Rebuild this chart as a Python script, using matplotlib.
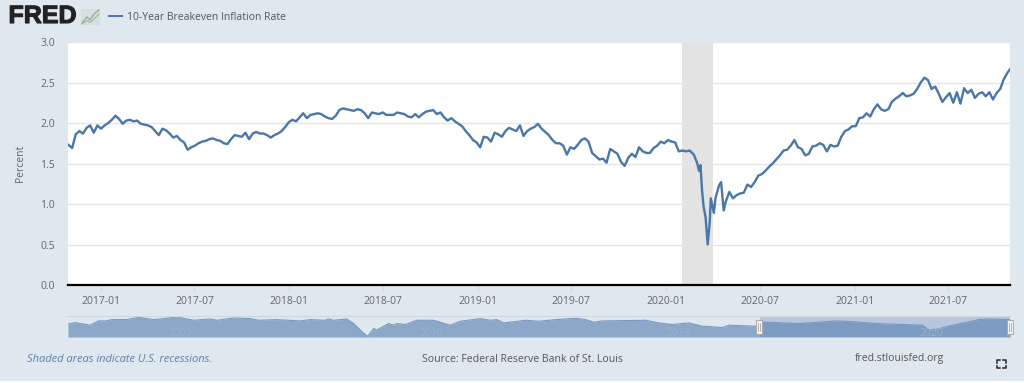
import pandas as pd
import matplotlib
matplotlib.use("Agg")
import matplotlib.pyplot as plt
import matplotlib.patheffects as pe

plt.rcParams['font.family'] = ['Open Sans', 'DejaVu Sans']

# weekly readings, 2016-10-30 to 2020-02-16
values_a = [1.73, 1.69, 1.86, 1.90, 1.87, 1.94, 1.97, 1.88, 1.97, 1.93,
            1.97, 2.00, 2.04, 2.09, 2.05, 1.99, 2.03, 2.04, 2.02, 2.03,
            1.99, 1.98, 1.97, 1.95, 1.90, 1.85, 1.93, 1.91, 1.87, 1.82,
            1.84, 1.79, 1.76, 1.67, 1.70, 1.72, 1.75, 1.77, 1.78, 1.80,
            1.81, 1.79, 1.78, 1.75, 1.74, 1.80, 1.85, 1.84, 1.83, 1.88,
            1.80, 1.87, 1.89, 1.87, 1.87, 1.85, 1.82, 1.85, 1.87, 1.90,
            1.95, 2.01, 2.04, 2.02, 2.07, 2.12, 2.06, 2.10, 2.11, 2.12,
            2.11, 2.08, 2.06, 2.05, 2.09, 2.16, 2.18, 2.17, 2.16, 2.15,
            2.17, 2.16, 2.12, 2.06, 2.13, 2.12, 2.11, 2.13, 2.10, 2.10,
            2.10, 2.13, 2.12, 2.11, 2.08, 2.07, 2.11, 2.07, 2.11, 2.14,
            2.15, 2.16, 2.11, 2.13, 2.07, 2.03, 2.06, 2.02, 1.99, 1.96,
            1.90, 1.85, 1.79, 1.76, 1.70, 1.83, 1.82, 1.77, 1.88, 1.86,
            1.83, 1.90, 1.94, 1.92, 1.90, 1.97, 1.84, 1.90, 1.93, 1.95,
            1.99, 1.93, 1.89, 1.85, 1.79, 1.75, 1.75, 1.72, 1.61, 1.70,
            1.68, 1.73, 1.79, 1.81, 1.77, 1.63, 1.59, 1.55, 1.56, 1.51,
            1.68, 1.65, 1.62, 1.52, 1.47, 1.57, 1.62, 1.58, 1.70, 1.65,
            1.63, 1.63, 1.69, 1.72, 1.77, 1.75, 1.79, 1.77, 1.76, 1.65,
            1.66, 1.65, 1.66]

# the crash needs a closer look than weekly
crash_dates = ['2020-02-24', '2020-03-02', '2020-03-05', '2020-03-08', '2020-03-11',
               '2020-03-14', '2020-03-18', '2020-03-22', '2020-03-26', '2020-03-28',
               '2020-04-03', '2020-04-06', '2020-04-13', '2020-04-17', '2020-04-22']
crash_values = [1.61, 1.50, 1.41, 1.48, 1.17, 0.97, 0.83, 0.50, 0.78, 1.07,
                0.89, 1.07, 1.23, 1.27, 0.92]

# weekly readings from 2020-04-26 on
values_b = [1.03, 1.15, 1.07, 1.11, 1.13, 1.14, 1.24, 1.21, 1.27, 1.35,
            1.37, 1.41, 1.46, 1.50, 1.55, 1.60, 1.66, 1.67, 1.72, 1.79,
            1.70, 1.68, 1.60, 1.62, 1.71, 1.72, 1.75, 1.73, 1.65, 1.73,
            1.71, 1.72, 1.83, 1.90, 1.92, 1.96, 1.96, 2.06, 2.07, 2.12,
            2.08, 2.17, 2.23, 2.17, 2.15, 2.17, 2.26, 2.30, 2.33, 2.37,
            2.33, 2.34, 2.36, 2.42, 2.50, 2.56, 2.53, 2.42, 2.45, 2.36,
            2.26, 2.32, 2.37, 2.25, 2.38, 2.24, 2.43, 2.37, 2.41, 2.31,
            2.36, 2.38, 2.33, 2.38, 2.29, 2.37, 2.42, 2.54, 2.62, 2.68]

recession = ['2020-02-01', '2020-04-01']
x_range = ['2016-10-29', '2021-10-29']
tick_dates = ['2017-01-01', '2017-07-01', '2018-01-01', '2018-07-01', '2019-01-01',
              '2019-07-01', '2020-01-01', '2020-07-01', '2021-01-01', '2021-07-01']
tick_labels = ['2017-01', '2017-07', '2018-01', '2018-07', '2019-01',
               '2019-07', '2020-01', '2020-07', '2021-01', '2021-07']
y_ticks = [0.0, 0.5, 1.0, 1.5, 2.0, 2.5, 3.0]

# navigator, whole history in decimal years
nav_years = [2003.00, 2003.14, 2003.44, 2003.61, 2003.77, 2003.87, 2004.17, 2004.41, 2004.71, 2004.91,
             2005.17, 2005.51, 2005.84, 2005.97, 2006.31, 2006.64, 2006.81, 2007.17, 2007.64, 2007.84,
             2008.14, 2008.21, 2008.31, 2008.57, 2008.71, 2008.91, 2008.99, 2009.11, 2009.17, 2009.41,
             2009.51, 2009.57, 2009.74, 2009.97, 2010.31, 2010.64, 2010.84, 2011.24, 2011.44, 2011.57,
             2011.71, 2011.88, 2012.15, 2012.41, 2012.75, 2013.15, 2013.35, 2013.51, 2013.68, 2014.55,
             2014.81, 2015.08, 2015.41, 2015.68, 2016.08, 2016.21, 2016.75, 2016.85, 2017.61, 2018.35,
             2018.75, 2019.15, 2020.08, 2020.21, 2020.35, 2020.68, 2021.21, 2021.41, 2021.83]
nav_values = [1.95, 2.20, 1.80, 2.45, 2.45, 2.65, 2.65, 3.00, 2.65, 2.80,
              3.05, 2.55, 2.75, 2.55, 2.90, 2.80, 2.55, 2.65, 2.45, 2.65,
              2.55, 2.75, 2.55, 2.75, 2.05, 0.55, 0.10, 1.30, 1.05, 2.05,
              1.80, 2.05, 1.90, 2.55, 2.55, 1.80, 2.40, 2.80, 2.55, 2.65,
              2.15, 2.30, 2.55, 2.40, 2.65, 2.85, 2.65, 2.25, 2.45, 2.55,
              2.15, 1.90, 2.15, 1.65, 1.45, 1.80, 1.65, 2.30, 2.05, 2.45,
              2.30, 2.05, 1.80, 1.05, 1.15, 1.80, 2.65, 2.75, 2.65]
nav_labels = ['2005', '2010', '2015', '2020']
nav_label_years = [2005.25, 2010.27, 2015.2, 2020.25]
nav_selected = [2016.83, 2021.83]

BG = '#dfe8ef'
LINE = '#4a76a8'
W, H = 1024, 383

dates = (list(pd.date_range('2016-10-30', periods=len(values_a), freq='7D'))
         + list(pd.to_datetime(crash_dates))
         + list(pd.date_range('2020-04-26', periods=len(values_b), freq='7D')))
series = values_a + crash_values + values_b

fig = plt.figure(figsize=(W / 100, H / 100), dpi=100, facecolor=BG)


def px_axes(left, top, right, bottom):
    return fig.add_axes([left / W, 1 - bottom / H, (right - left) / W, (bottom - top) / H])


# main chart
ax = px_axes(68, 42, 1010, 285)
ax.plot(dates, series, color=LINE, lw=1.7, solid_joinstyle='round')
ax.axvspan(pd.Timestamp(recession[0]), pd.Timestamp(recession[1]), color='#e3e3e3', lw=0, zorder=0)
ax.set_xlim(pd.Timestamp(x_range[0]), pd.Timestamp(x_range[1]))
ax.set_ylim(0, 3)
ax.set_yticks(y_ticks)
ax.set_yticklabels(['%.1f' % v for v in y_ticks])
ax.set_xticks(pd.to_datetime(tick_dates))
ax.set_xticklabels(tick_labels)
ax.grid(axis='y', color='#e6e6e6', lw=1)
ax.set_axisbelow(True)
ax.tick_params(axis='y', length=0, labelsize=7.5, labelcolor='#666666', pad=9.5)
ax.tick_params(axis='x', length=5, color='#d3dbe2', width=1, labelsize=7.5, labelcolor='#666666', pad=3)
ax.set_ylabel('Percent', fontsize=7.5, color='#666666', labelpad=10)
for s in ['top', 'left', 'right']:
    ax.spines[s].set_visible(False)
ax.spines['bottom'].set_linewidth(1.6)
ax.spines['bottom'].set_color('black')

# navigator
nav = px_axes(68, 316, 1010, 337)
nav.set_xlim(2003, 2021.83)
nav.set_ylim(0, 3.2)
nav.set_facecolor(BG)
nav.fill_between(nav_years, nav_values, 0, color='#8ba8c9', lw=0)
nav.plot(nav_years, nav_values, color='#7a99bf', lw=0.8)
for yr, lab in zip(nav_label_years, nav_labels):
    nav.text(yr, 0.5, lab, fontsize=7.5, color='#9ab1cd', ha='center', va='center')
nav.axvspan(nav_selected[0], nav_selected[1], color='#5b7fb8', alpha=0.3, lw=0)
nav.set_xticks([])
nav.set_yticks([])
for s in ['left', 'right', 'bottom']:
    nav.spines[s].set_visible(False)
nav.spines['top'].set_color('#cfd6dc')
nav.spines['top'].set_linewidth(0.8)

# page furniture in pixel coordinates
top = px_axes(0, 0, W, H)
top.set_xlim(0, W)
top.set_ylim(H, 0)
top.axis('off')
top.patch.set_alpha(0)

top.text(8.5, 16, 'FRED', fontsize=18, fontweight='bold', color='#222222', family='Liberation Sans',
         ha='left', va='center', path_effects=[pe.withStroke(linewidth=0.8, foreground='#222222')])
top.add_patch(plt.Rectangle((81, 9), 19, 16, color='#d6dfe0', lw=0))
top.plot([82, 87, 90, 94, 99], [23, 17, 20, 14, 10], color='#8fae8f', lw=0.9)
top.plot([82, 86, 91, 95, 99], [24, 21, 22, 18, 14], color='#a3b8a3', lw=0.9)
top.plot([109, 122], [16, 16], color=LINE, lw=1.4)
top.text(127, 17, '10-Year Breakeven Inflation Rate', fontsize=7.5, color='#555555', ha='left', va='center')

top.text(27, 359, 'Shaded areas indicate U.S. recessions.', fontsize=8, style='italic', color='#5f7fa8',
         ha='left', va='center')
top.text(422, 359, 'Source: Federal Reserve Bank of St. Louis', fontsize=7.6, color='#555555', ha='left', va='center')
top.text(855, 359, 'fred.stlouisfed.org', fontsize=7.5, color='#555555', ha='left', va='center')

# range handles
for hx in [759, 1010]:
    top.add_patch(plt.Rectangle((hx - 3, 320), 6, 14, facecolor='#f2f2f2', edgecolor='#a9a9a9', lw=0.7, zorder=5))
    top.plot([hx - 0.8, hx - 0.8], [323, 331], color='#999999', lw=0.5, zorder=6)
    top.plot([hx + 0.8, hx + 0.8], [323, 331], color='#999999', lw=0.5, zorder=6)

# fullscreen icon
for cx, cy, dx, dy in [(997, 360, 1, 1), (1006, 360, -1, 1), (997, 368, 1, -1), (1006, 368, -1, -1)]:
    top.plot([cx + 3 * dx, cx, cx], [cy, cy, cy + 2.5 * dy], color='#222222', lw=1.1)

# white strip along the bottom edge
top.add_patch(plt.Rectangle((0, 381), W, 2, color='white', lw=0))

fig.savefig('out.png', dpi=100, facecolor=BG)
